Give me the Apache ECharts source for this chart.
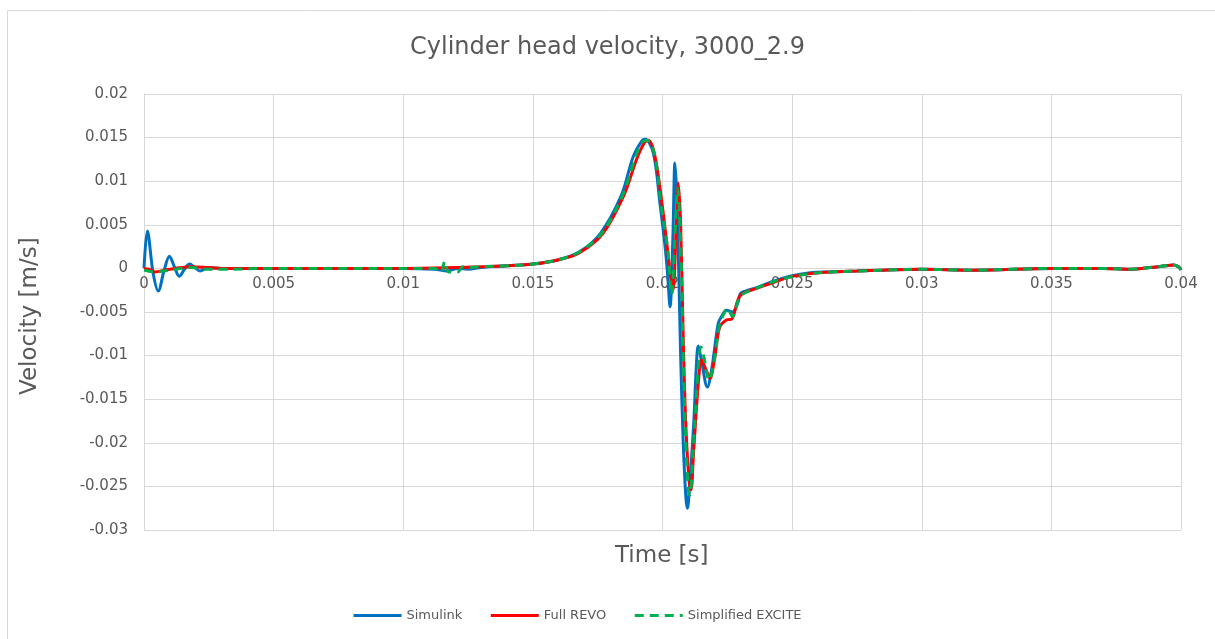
<!DOCTYPE html>
<html>
<head>
<meta charset="utf-8">
<script src="https://cdn.jsdelivr.net/npm/echarts@6/dist/echarts.min.js"></script>
<style>
html,body{margin:0;padding:0;background:#fff;}
#chart{width:1215px;height:639px;}
</style>
</head>
<body>
<div id="chart"></div>
<script>
// Simulink
var simT = [0, 0.00013, 0.00035, 0.00055, 0.00077, 0.00098, 0.00117, 0.00136, 0.00156, 0.00176, 0.00196, 0.00216, 0.0025, 0.003, 0.004, 0.006, 0.008, 0.010, 0.0112, 0.0117, 0.0121, 0.0125, 0.013, 0.014, 0.015, 0.016, 0.0168, 0.0176, 0.0184, 0.01887, 0.0192, 0.01933, 0.01965, 0.0199, 0.0201, 0.0202, 0.02029, 0.0204, 0.02048, 0.02056, 0.0207, 0.0208, 0.0209, 0.02096, 0.0210, 0.0212, 0.0213, 0.02138, 0.0215, 0.02173, 0.0219, 0.02215, 0.02228, 0.02247, 0.0227, 0.0229, 0.0230, 0.0232, 0.02363, 0.02415, 0.02492, 0.0257, 0.0265, 0.0275, 0.0285, 0.030, 0.032, 0.035, 0.037, 0.038, 0.0388, 0.0394, 0.0397, 0.0399, 0.04];
var simV = [0, 0.0043, -0.0005, -0.0026, -0.0003, 0.0014, 0.0002, -0.0009, -0.0001, 0.0005, 0.0001, -0.0003, 0.0001, 0, 0, 0, 0, 0, -0.0001, -0.0003, 0, -0.0001, 0.0001, 0.0003, 0.0005, 0.0010, 0.0019, 0.0040, 0.0083, 0.0128, 0.0146, 0.0148, 0.0132, 0.0075, 0.0025, -0.0008, -0.0044, 0.0035, 0.0121, 0.0075, -0.0100, -0.0200, -0.0262, -0.0275, -0.0268, -0.0180, -0.0115, -0.0089, -0.0105, -0.0136, -0.0115, -0.0063, -0.0055, -0.0048, -0.0050, -0.0040, -0.0029, -0.0026, -0.0022, -0.0016, -0.0009, -0.0005, -0.0004, -0.0003, -0.0002, -0.0001, -0.0002, 0, 0, -0.0001, 0.0001, 0.0003, 0.0004, 0.0002, -0.0002];

// Full REVO
var revoT = [0, 0.0002, 0.00042, 0.0008, 0.0012, 0.0018, 0.0025, 0.003, 0.005, 0.008, 0.010, 0.012, 0.013, 0.014, 0.015, 0.016, 0.0168, 0.0177, 0.0185, 0.0190, 0.0193, 0.01945, 0.0197, 0.0200, 0.0202, 0.0204, 0.02052, 0.02061, 0.0207, 0.0208, 0.0209, 0.02103, 0.0211, 0.0212, 0.0214, 0.02151, 0.0217, 0.02183, 0.0220, 0.0222, 0.02248, 0.02267, 0.0230, 0.02363, 0.0242, 0.0249, 0.0257, 0.0265, 0.0275, 0.0285, 0.030, 0.032, 0.035, 0.037, 0.038, 0.0388, 0.0394, 0.0397, 0.0399, 0.04];
var revoV = [0, -0.0001, -0.0004, -0.0002, 0, 0.0002, 0.0001, 0, 0, 0, 0, 0.0001, 0.0002, 0.0003, 0.0005, 0.0010, 0.0018, 0.0040, 0.0083, 0.0125, 0.0144, 0.0147, 0.0130, 0.0070, 0.0020, -0.0025, 0.0040, 0.0098, 0.0050, -0.0080, -0.0180, -0.0245, -0.0254, -0.0210, -0.0125, -0.0105, -0.0118, -0.0126, -0.0105, -0.0068, -0.0059, -0.0058, -0.0031, -0.0023, -0.0017, -0.0010, -0.0006, -0.0004, -0.0003, -0.0002, -0.0001, -0.0002, 0, 0, -0.0001, 0.0001, 0.0003, 0.0004, 0.0002, -0.0001];

// Simplified EXCITE
var exciteT = [0, 0.0004, 0.001, 0.0018, 0.0025, 0.003, 0.005, 0.008, 0.0105, 0.0112, 0.01145, 0.0116, 0.01175, 0.0121, 0.0123, 0.0126, 0.013, 0.014, 0.015, 0.016, 0.0168, 0.01765, 0.01845, 0.01895, 0.0192, 0.0194, 0.0197, 0.01995, 0.0202, 0.02035, 0.0205, 0.02058, 0.0207, 0.0208, 0.0209, 0.0210, 0.02105, 0.0212, 0.0214, 0.02148, 0.0216, 0.0218, 0.0220, 0.0222, 0.0224, 0.0225, 0.0227, 0.0230, 0.0236, 0.0242, 0.0249, 0.0257, 0.0265, 0.0275, 0.0285, 0.030, 0.032, 0.035, 0.037, 0.038, 0.0388, 0.0394, 0.0397, 0.0399, 0.04];
var exciteV = [-0.0002, -0.0004, -0.0002, 0.0001, -0.0001, -0.0001, 0, 0, 0, 0, -0.0004, 0.0008, -0.0004, -0.0004, 0.0002, 0.0001, 0.0002, 0.0003, 0.0005, 0.0010, 0.0019, 0.0040, 0.0083, 0.0127, 0.0144, 0.0147, 0.0130, 0.0072, 0.0022, -0.0030, 0.0050, 0.0092, 0.0030, -0.0100, -0.0200, -0.0255, -0.0260, -0.0200, -0.0105, -0.0090, -0.0102, -0.0128, -0.0105, -0.0065, -0.0050, -0.0046, -0.0055, -0.0032, -0.0023, -0.0016, -0.0010, -0.0006, -0.0004, -0.0003, -0.0002, -0.0001, -0.0002, 0, 0, -0.0001, 0.0001, 0.0003, 0.0004, 0.0002, -0.0002];

var seriesNames = ['Simulink', 'Full REVO', 'Simplified EXCITE'];
var xTicks = {min: 0, max: 0.04, interval: 0.005};
var yTicks = {min: -0.03, max: 0.02, interval: 0.005};

function pairs(t, v) { return t.map(function (x, i) { return [x, v[i]]; }); }

var FONT = 'DejaVu Sans';
var TXT = '#595959';
var GRID = '#d9d9d9';
var GRID_TOP = 94, GRID_BOTTOM = 109, H = 639;
var plotH = H - GRID_TOP - GRID_BOTTOM;
// distance from plot bottom to the y = 0 line, from the y scale
var zeroOffset = plotH * (0 - yTicks.min) / (yTicks.max - yTicks.min);

var chart = echarts.init(document.getElementById('chart'), null, {renderer: 'canvas'});
chart.setOption({
  backgroundColor: '#fff',
  animation: false,
  textStyle: {fontFamily: FONT},
  title: {
    text: 'Cylinder head velocity, 3000_2.9',
    left: 'center', top: 31,
    textStyle: {fontFamily: FONT, fontSize: 24, fontWeight: 'normal', color: TXT}
  },
  legend: {
    left: 347, top: 604,
    itemWidth: 48, itemHeight: 14, itemGap: 27,
    itemStyle: {opacity: 0},
    lineStyle: {width: 3},
    textStyle: {fontFamily: FONT, fontSize: 13, color: TXT},
    data: seriesNames
  },
  grid: {left: 144, right: 34, top: GRID_TOP, bottom: GRID_BOTTOM, containLabel: false},
  xAxis: {
    type: 'value', min: xTicks.min, max: xTicks.max, interval: xTicks.interval,
    position: 'bottom', offset: -zeroOffset,
    axisLine: {show: true, onZero: false, lineStyle: {color: GRID, width: 1}},
    axisTick: {show: false},
    splitLine: {show: true, lineStyle: {color: GRID, width: 1}},
    axisLabel: {color: TXT, fontSize: 15, fontFamily: FONT, margin: 8}
  },
  yAxis: {
    type: 'value', min: yTicks.min, max: yTicks.max, interval: yTicks.interval,
    axisLine: {show: true, lineStyle: {color: GRID, width: 1}},
    axisTick: {show: false},
    splitLine: {show: true, lineStyle: {color: GRID, width: 1}},
    axisLabel: {color: TXT, fontSize: 15, fontFamily: FONT, margin: 16}
  },
  graphic: [
    {type: 'rect', silent: true, shape: {x: 7.5, y: 10.5, width: 1400, height: 800},
     style: {fill: 'none', stroke: GRID, lineWidth: 1}},
    {type: 'text', left: 615, top: 545,
     style: {text: 'Time [s]', font: '23px "DejaVu Sans"', fill: TXT}},
    {type: 'text', x: 19, y: 395, rotation: Math.PI / 2,
     style: {text: 'Velocity [m/s]', font: '23px "DejaVu Sans"', fill: TXT}}
  ],
  series: [
    {name: seriesNames[0], type: 'line', data: pairs(simT, simV), showSymbol: false, symbol: 'none',
     smooth: 0.35, color: '#0070C0', lineStyle: {color: '#0070C0', width: 3}, z: 2},
    {name: seriesNames[1], type: 'line', data: pairs(revoT, revoV), showSymbol: false, symbol: 'none',
     smooth: 0.35, color: '#FF0000', lineStyle: {color: '#FF0000', width: 3}, z: 3},
    {name: seriesNames[2], type: 'line', data: pairs(exciteT, exciteV), showSymbol: false, symbol: 'none',
     smooth: 0.35, color: '#00B050', lineStyle: {color: '#00B050', width: 3, type: [9, 6]}, z: 4}
  ]
});
</script>
</body>
</html>
